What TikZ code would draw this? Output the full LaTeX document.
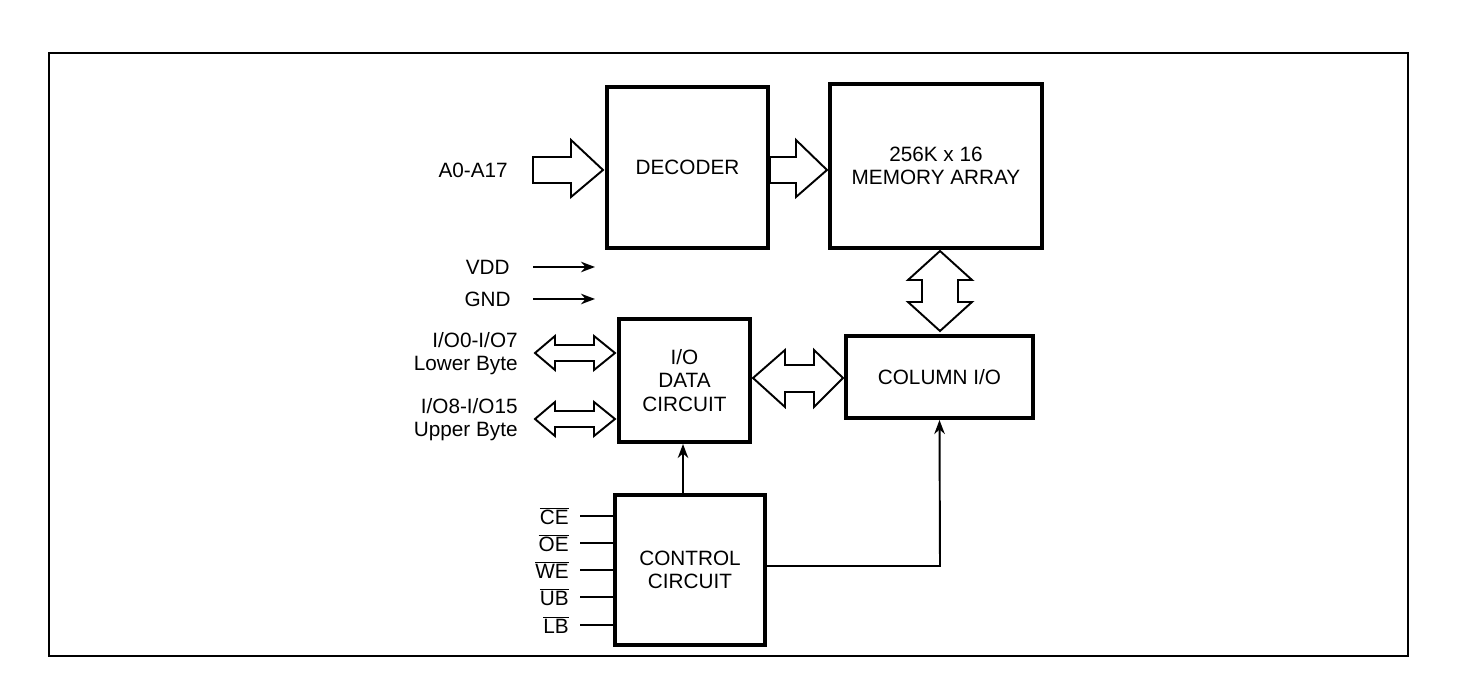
\documentclass[tikz,border=0pt]{standalone}
\usepackage{fontspec}
\setmainfont{Liberation Sans}
\usetikzlibrary{arrows.meta}
\begin{document}
\begin{tikzpicture}[x=0.02cm,y=-0.02cm,
  blk/.style={draw,line width=2.3pt,inner sep=0pt,align=center},
  lbl/.style={font=\fontsize{11.8}{13.2}\selectfont,align=right,anchor=east,inner sep=0pt},
  txt/.style={font=\fontsize{11.8}{13.2}\selectfont},
  ba/.style={draw,line width=1.1pt,fill=white,line join=miter},
  sig/.style={line width=1.1pt},
  ar/.style={line width=1.1pt,-{Stealth[length=8pt,width=6pt]}}]
\useasboundingbox (0,0) rectangle (1465,699);
\draw[line width=1.1pt] (49,53) rectangle (1408,656);
% boxes
\node[blk,minimum width=3.22cm,minimum height=3.22cm,txt] (dec) at (687.5,167.5) {DECODER};
\node[blk,minimum width=4.24cm,minimum height=3.28cm,txt] (mem) at (936,166) {256K x 16\\MEMORY ARRAY};
\node[blk,minimum width=2.62cm,minimum height=2.46cm,txt] (iod) at (684.5,380.5) {I/O\\DATA\\CIRCUIT};
\node[blk,minimum width=3.74cm,minimum height=1.64cm,txt] (col) at (939.5,377) {COLUMN I/O};
\node[blk,minimum width=3.0cm,minimum height=3.0cm,txt] (ctl) at (690,570) {CONTROL\\CIRCUIT};
% block arrows
\draw[ba] (533,157)--(571,157)--(571,140)--(603,170)--(571,197)--(571,183)--(533,183)--cycle;
\draw[ba] (770,157)--(796,157)--(796,140)--(827,170)--(796,197)--(796,183)--(770,183)--cycle;
% vertical double
\draw[ba] (940,251)--(972,280)--(958,280)--(958,302)--(972,302)--(940,331)--(908,302)--(922,302)--(922,280)--(908,280)--cycle;
% io-column double
\draw[ba] (753,378)--(785,350)--(785,365)--(814,365)--(814,350)--(843,378)--(814,407)--(814,392)--(785,392)--(785,407)--cycle;
% left doubles
\foreach \yy in {353,419}{
\draw[ba] (535,\yy)--(555,\yy-17)--(555,\yy-8)--(594,\yy-8)--(594,\yy-17)--(615,\yy)--(594,\yy+17)--(594,\yy+8)--(555,\yy+8)--(555,\yy+17)--cycle;}
% labels
\node[lbl] (la) at (508,170) {A0-A17};
\node[lbl] (lv) at (510,267) {VDD};
\node[lbl] (lg) at (511,299) {GND};
\node[lbl] (l1) at (518,354) {I/O0-I/O7\\Lower Byte};
\node[lbl] (l2) at (518,420) {I/O8-I/O15\\Upper Byte};
\coordinate (v0) at (533,267); \coordinate (v1) at (595,267);
\coordinate (g0) at (533,299); \coordinate (g1) at (595,299);
\draw[ar] (v0)--(v1);
\draw[ar] (g0)--(g1);
% control signals
\foreach \n/\t/\yy in {ce/CE/516,oe/OE/543,we/WE/570,ub/UB/597,lb/LB/625}{
\node[lbl] (s\n) at (569,\yy) {$\overline{\mbox{\t}}$};
\coordinate (c\n) at (580,\yy);
\draw[sig] (c\n)--(ctl.west |- c\n);}
\draw[ar] (ctl.north -| 683,0)--(iod.south -| 683,0);
\draw[ar] (ctl.east |- 0,566)--(940,566)--(col.south);
\end{tikzpicture}
\end{document}
